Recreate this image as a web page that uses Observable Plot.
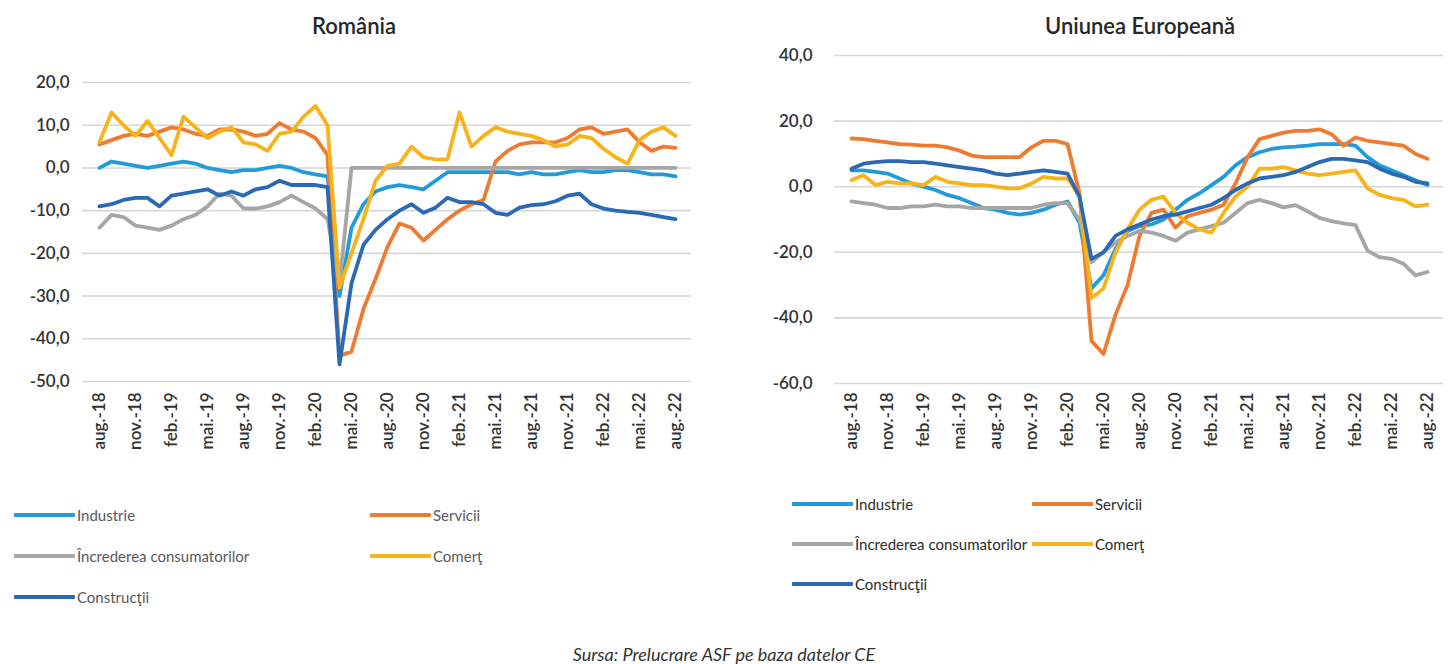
<!DOCTYPE html>
<html>
<head>
<meta charset="utf-8">
<script src="https://cdn.jsdelivr.net/npm/d3@7"></script>
<script src="https://cdn.jsdelivr.net/npm/@observablehq/plot@0.6"></script>
<style>
  html, body { margin: 0; padding: 0; background: #ffffff; }
  body { font-family: Lato, "Open Sans", "Noto Sans", sans-serif; }
  #wrap { position: relative; width: 1448px; height: 664px; overflow: hidden; background: #ffffff; }
  .chart { position: absolute; top: 0; }
  .title { position: absolute; top: 12px; font-size: 22px; font-weight: 600; color: #262626; transform: translateX(-50%); white-space: nowrap; }
  .leg { position: absolute; display: flex; align-items: center; font-size: 15px; white-space: nowrap; }
  .leg .sw { display: inline-block; width: 61px; height: 4px; margin-right: 2px; border-radius: 1px; }
  .caption { position: absolute; top: 643px; left: 0; width: 1448px; text-align: center; font-size: 18px; font-style: italic; color: #333; }
</style>
</head>
<body>
<div id="wrap">
  <div class="title" style="left:354px">România</div>
  <div class="title" style="left:1140px">Uniunea Europeană</div>
  <div id="left" class="chart" style="left:0px"></div>
  <div id="right" class="chart" style="left:740px"></div>
  <div id="legL"></div>
  <div id="legR"></div>
  <div class="caption">Sursa: Prelucrare ASF pe baza datelor CE</div>
</div>
<script>
// Categories: months aug.-18 ... aug.-22
const months = [
  "aug.-18","sept.-18","oct.-18","nov.-18","dec.-18",
  "ian.-19","feb.-19","mar.-19","apr.-19","mai.-19","iun.-19","iul.-19","aug.-19","sept.-19","oct.-19","nov.-19","dec.-19",
  "ian.-20","feb.-20","mar.-20","apr.-20","mai.-20","iun.-20","iul.-20","aug.-20","sept.-20","oct.-20","nov.-20","dec.-20",
  "ian.-21","feb.-21","mar.-21","apr.-21","mai.-21","iun.-21","iul.-21","aug.-21","sept.-21","oct.-21","nov.-21","dec.-21",
  "ian.-22","feb.-22","mar.-22","apr.-22","mai.-22","iun.-22","iul.-22","aug.-22"
];
const tickMonths = ["aug.-18","nov.-18","feb.-19","mai.-19","aug.-19","nov.-19","feb.-20","mai.-20","aug.-20","nov.-20","feb.-21","mai.-21","aug.-21","nov.-21","feb.-22","mai.-22","aug.-22"];

const seriesNames = ["Industrie", "Servicii", "Încrederea consumatorilor", "Comerţ", "Construcţii"];
const seriesColors = ["#239bd8", "#ed7b30", "#a6a6a6", "#f8b31b", "#2a69b3"];

// România
const roIndustrie = [0,1.5,1,0.5,0,0.5,1,1.5,1,0, -0.5,-1,-0.5,-0.5,0,0.5,0,-1,-1.5,-2, -30,-14,-8.5,-5.5,-4.5,-4,-4.5,-5,-3,-1, -1,-1,-1,-1,-1,-1.5,-1,-1.5,-1.5,-1, -0.5,-1,-1,-0.5,-0.5,-1,-1.5,-1.5,-2];
const roServicii = [5.5,6.5,7.5,8,7.5,8.5,9.5,9,8,7.5, 9,9,8.5,7.5,8,10.5,9,8.5,7,3, -44,-43,-33,-26,-18.5,-13,-14,-17,-14.5,-12, -10,-8.5,-7.5,1.5,4,5.5,6,6,6,7, 9,9.5,8,8.5,9,6,4,5,4.7];
const roIncredere = [-14,-11,-11.5,-13.5,-14,-14.5,-13.5,-12,-11,-9, -6,-6.5,-9.5,-9.5,-9,-8,-6.5,-8,-9.5,-12, -27,0,0,0,0,0,0,0,0,0, 0,0,0,0,0,0,0,0,0,0, 0,0,0,0,0,0,0,0,0];
const roComert = [6,13,10,7.5,11,7,3,12,9.5,7, 8.5,9.5,6,5.5,4,8,8.5,12,14.5,10, -28,-20,-12,-3,0.5,1,5,2.5,2,2, 13,5,7.5,9.5,8.5,8,7.5,6.5,5,5.5, 7.5,7,4.5,2.5,1,6.5,8.5,9.5,7.5];
const roConstructii = [-9,-8.5,-7.5,-7,-7,-9,-6.5,-6,-5.5,-5, -6.5,-5.5,-6.5,-5,-4.5,-3,-4,-4,-4,-4.5, -46,-27,-18,-14.5,-12,-10,-8.5,-10.5,-9.3,-7, -8,-8,-8.5,-10.5,-11,-9.3,-8.7,-8.5,-7.8,-6.5, -6,-8.5,-9.5,-10,-10.3,-10.5,-11,-11.5,-12];

// Uniunea Europeană
const euIndustrie = [5,5,4.5,4,2.5,1,0,-1,-2.5,-3.5, -5,-6.5,-7,-8,-8.5,-8,-7,-5.5,-4.5,-11, -31,-27,-19,-13.5,-12,-11.5,-10,-7,-4,-2, 0.5,3,6.5,9,10.5,11.5,12,12.2,12.5,13, 13,13,12.5,9,6.5,5,3.5,2,0.5];
const euServicii = [14.7,14.5,14,13.5,13,12.8,12.5,12.5,12,11, 9.5,9,9,9,9,12,14,14,13,-2, -47,-51,-39,-30,-15,-8,-7,-12.5,-9,-8, -7,-5.5,1,9,14.5,15.5,16.5,17,17,17.5, 16,12.5,15,14,13.5,13,12.5,10,8.5];
const euIncredere = [-4.5,-5,-5.5,-6.5,-6.5,-6,-6,-5.5,-6,-6, -6.5,-6.5,-6.5,-6.5,-6.5,-6.5,-5.5,-5,-5,-10, -23,-20,-17,-15,-13.5,-14,-15,-16.5,-14,-13, -12,-11,-8,-5,-4,-5,-6.3,-5.6,-7.5,-9.5, -10.5,-11.2,-11.7,-19.5,-21.5,-22,-23.5,-27,-26];
const euComert = [2,3.5,0.5,1.5,1,1,0.5,3,1.5,1, 0.5,0.5,0,-0.5,-0.5,1,3,2.5,2.5,-3, -34,-31,-20,-13,-7,-4,-3,-8,-11,-13, -14,-8,-3,0,5.5,5.5,6,5,4,3.5, 4,4.5,5,-0.5,-2.5,-3.5,-4,-6,-5.5];
const euConstructii = [5.5,7,7.5,7.8,7.8,7.5,7.5,7,6.5,6, 5.5,5,4,3.5,4,4.5,5,4.5,4,-3, -22,-20,-15,-13,-11.5,-10,-9,-8.5,-7.5,-6.5, -5.5,-3.5,-1,1,2.5,3,3.5,4.5,6,7.5, 8.5,8.5,8,7.5,5.5,4,3,1.5,1];

const roTicks = [-50,-40,-30,-20,-10,0,10,20];
const euTicks = [-60,-40,-20,0,20,40];

const fmt = d => d.toFixed(1).replace(".", ",");

function panel(seriesValues, yDomain, yTicks, o) {
  const lines = seriesValues.map((vals, k) =>
    Plot.line(vals, {
      x: (d, i) => months[i],
      y: d => d,
      stroke: seriesColors[k],
      strokeWidth: 3.8,
      strokeLinejoin: "round",
      strokeLinecap: "round"
    })
  );
  return Plot.plot({
    width: o.width,
    height: 470,
    marginLeft: o.ml,
    marginRight: o.mr,
    marginTop: o.mt,
    marginBottom: o.mb,
    style: { fontFamily: "Lato, 'Open Sans', sans-serif", background: "transparent", overflow: "visible" },
    x: { type: "point", domain: months, padding: 0.5 },
    y: { domain: yDomain },
    marks: [
      Plot.ruleY(yTicks, { stroke: "#d6d6d6", strokeWidth: 1.6 }),
      Plot.axisY(yTicks, { tickSize: 0, tickPadding: o.ypad, tickFormat: fmt, fontSize: 17, fontWeight: 600, fill: "#333", label: null }),
      Plot.axisX(tickMonths, { tickRotate: -90, tickSize: 0, tickPadding: o.xpad, fontSize: 17, fontWeight: 600, fill: "#333", label: null }),
      ...lines
    ]
  });
}

document.getElementById("left").appendChild(
  panel([roIndustrie, roServicii, roIncredere, roComert, roConstructii], [-50, 20], roTicks,
        { width: 710, ml: 82, mr: 19, mt: 82, mb: 89, ypad: 13, xpad: 11 })
);
document.getElementById("right").appendChild(
  panel([euIndustrie, euServicii, euIncredere, euComert, euConstructii], [-60, 40], euTicks,
        { width: 708, ml: 94, mr: 5, mt: 55, mb: 87, ypad: 22, xpad: 9 })
);

function legend(containerId, positions, color) {
  const c = document.getElementById(containerId);
  seriesNames.forEach((name, k) => {
    const p = positions[k];
    const el = document.createElement("div");
    el.className = "leg";
    el.style.left = p[0] + "px";
    el.style.top = (p[1] - 10) + "px";
    el.style.color = color;
    const sw = document.createElement("span");
    sw.className = "sw";
    sw.style.background = seriesColors[k];
    el.appendChild(sw);
    el.appendChild(document.createTextNode(name));
    c.appendChild(el);
  });
}
legend("legL", [[14, 516], [370, 516], [14, 557], [370, 557], [14, 598]], "#595959");
legend("legR", [[792, 505], [1032, 505], [792, 545], [1032, 545], [792, 585]], "#2b2b2b");
</script>
</body>
</html>
